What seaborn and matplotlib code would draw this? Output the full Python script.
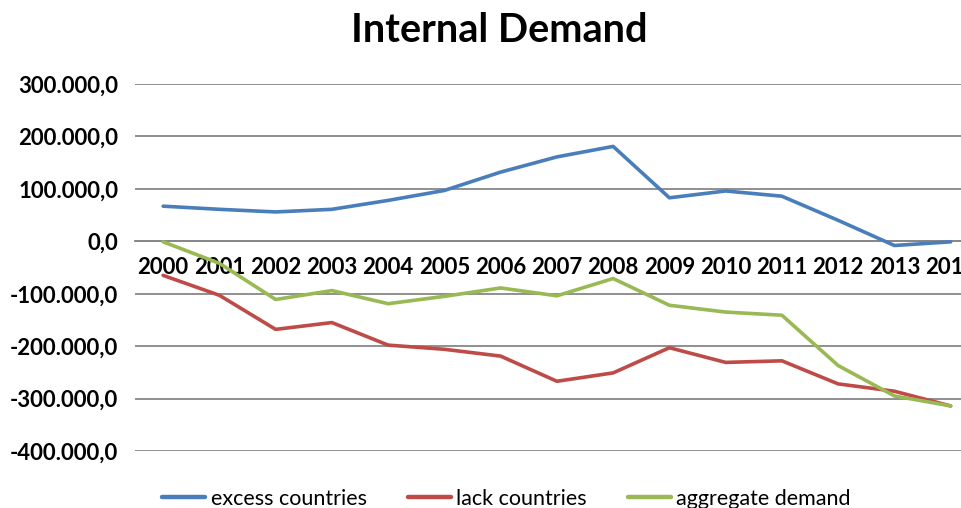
import matplotlib
matplotlib.use("Agg")
import matplotlib.pyplot as plt
from matplotlib.ticker import FuncFormatter
import pandas as pd
import seaborn as sns

years = list(range(2000, 2015))
excess_countries = [67000, 61000, 56000, 61000, 78000, 97000, 132000, 161000,
                    181000, 83000, 96000, 86000, 40000, -8000, -1000]
lack_countries = [-65000, -103000, -168000, -155000, -198000, -206000, -219000,
                  -267000, -251000, -203000, -231000, -228000, -272000, -286000, -314000]
aggregate_demand = [-1000, -42000, -111000, -94000, -119000, -105000, -89000,
                    -104000, -71000, -122000, -135000, -141000, -237000, -295000, -314000]
series_names = ["excess countries", "lack countries", "aggregate demand"]
series_colors = ["#4A7EBB", "#BE4B48", "#98B954"]
y_ticks = [300000, 200000, 100000, 0, -100000, -200000, -300000, -400000]

df = pd.DataFrame({
    "year": years * 3,
    "value": excess_countries + lack_countries + aggregate_demand,
    "series": [series_names[0]] * 15 + [series_names[1]] * 15 + [series_names[2]] * 15,
})

sns.set_theme(style="white")
plt.rcParams["font.family"] = ["Lato", "DejaVu Sans"]
plt.rcParams["text.color"] = "black"

fig = plt.figure(figsize=(9.61, 5.08), dpi=100)
ax = fig.add_axes([0.1405, 0.1122, 0.878, 0.7224])

sns.lineplot(data=df, x="year", y="value", hue="series", hue_order=series_names,
             palette=series_colors, linewidth=2.6, ax=ax, legend=False,
             solid_joinstyle="round", solid_capstyle="round", zorder=3)

ax.set_xlim(1999.5, 2014.5)
ax.set_ylim(-400000, 300000)
ax.set_yticks(y_ticks)


def euro_fmt(v, _pos):
    s = f"{v:,.1f}"
    return s.replace(",", "X").replace(".", ",").replace("X", ".")


ax.yaxis.set_major_formatter(FuncFormatter(euro_fmt))
ax.set_xticks(years)
ax.set_xticklabels([str(y) for y in years])

ax.grid(axis="y", color="#878787", linewidth=1.3)
ax.grid(axis="x", visible=False)
for side in ["left", "right", "top"]:
    ax.spines[side].set_visible(False)
ax.spines["bottom"].set_position(("data", 0))
ax.spines["bottom"].set_color("#878787")
ax.spines["bottom"].set_linewidth(1.3)

ax.tick_params(axis="y", length=0, pad=12, labelsize=16, labelcolor="black")
ax.tick_params(axis="x", length=0, pad=11, labelsize=16, labelcolor="black")
for lab in ax.get_yticklabels() + ax.get_xticklabels():
    lab.set_fontweight("bold")
ax.set_xlabel("")
ax.set_ylabel("")

fig.text(0.52, 0.94, "Internal Demand", ha="center", va="center",
         fontsize=28.5, fontweight="bold", color="black")

handles = [plt.Line2D([], [], color=c, linewidth=3.2) for c in series_colors]
leg = fig.legend(handles, series_names, loc="center", bbox_to_anchor=(0.527, 0.018),
                 ncol=3, frameon=False, fontsize=15.5, handlelength=2.0,
                 handletextpad=0.25, columnspacing=1.9)
for t in leg.get_texts():
    t.set_color("black")

fig.savefig("out.png", dpi=100)
